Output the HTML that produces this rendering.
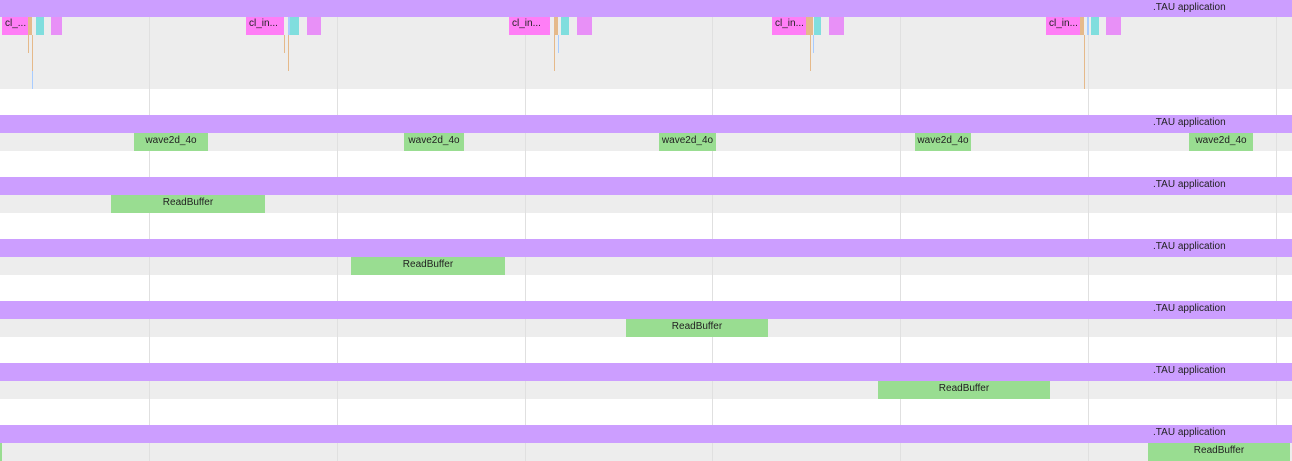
<!DOCTYPE html>
<html><head><meta charset="utf-8"><style>
body{margin:0;width:1292px;height:461px;overflow:hidden;background:#fff;font-family:"Liberation Sans",sans-serif;font-size:10px;color:#222}
#c{position:relative;width:1292px;height:461px}
.a{position:absolute;box-sizing:border-box;overflow:hidden;white-space:nowrap}
.t{line-height:17px}
</style></head><body><div id="c"></div>
<script>
const gridX=[149,337,525,712,900,1088,1276];
const trackTops=[0,115,177,239,301,363,425];
const trackBarH=[17,18,18,18,18,18,18];
const trackGrayH=[72,18,18,18,18,18,18];
// [track, start, end, label]
const greenEvents=[[1,134,208,"wave2d_4o"],[1,404,464,"wave2d_4o"],[1,659,716,"wave2d_4o"],[1,915,971,"wave2d_4o"],[1,1189,1253,"wave2d_4o"],
[2,111,265,"ReadBuffer"],[3,351,505,"ReadBuffer"],[4,626,768,"ReadBuffer"],[5,878,1050,"ReadBuffer"],[6,1148,1290,"ReadBuffer"],[6,0,2,""]];
// top track: [start,end,row,color,label]
const topEvents=[
[2,28,0,"#ff7ef6","cl_..."],[28,32,0,"#e5b98a",""],[36,44,0,"#80dede",""],[51,62,0,"#e890f7",""],
[246,284,0,"#ff7ef6","cl_in..."],[288,290,0,"#a8ccff",""],[290,299,0,"#80dede",""],[307,321,0,"#e890f7",""],
[509,550,0,"#ff7ef6","cl_in..."],[554,558,0,"#e5b98a",""],[561,569,0,"#80dede",""],[577,592,0,"#e890f7",""],
[772,806,0,"#ff7ef6","cl_in..."],[806,813,0,"#e5b98a",""],[814,821,0,"#80dede",""],[829,844,0,"#e890f7",""],
[1046,1080,0,"#ff7ef6","cl_in..."],[1080,1084,0,"#e5b98a",""],[1087,1089,0,"#a8ccff",""],[1091,1099,0,"#80dede",""],[1106,1121,0,"#e890f7",""],
[28,29,1,"#e5b98a",""],[32,33,1,"#e5b98a",""],[32,33,2,"#e5b98a",""],[32,33,3,"#a8ccff",""],
[284,285,1,"#e5b98a",""],[288,289,1,"#e5b98a",""],[288,289,2,"#e5b98a",""],
[554,555,1,"#e5b98a",""],[554,555,2,"#e5b98a",""],[558,559,1,"#a8ccff",""],
[810,811,1,"#e5b98a",""],[810,811,2,"#e5b98a",""],[813,814,1,"#a8ccff",""],
[1084,1085,1,"#e5b98a",""],[1084,1085,2,"#e5b98a",""],[1084,1085,3,"#e5b98a",""]];
const c=document.getElementById('c');
function box(x,y,w,h,bg,txt,mode){const d=document.createElement('div');d.className='a t';d.style.cssText=`left:${x}px;top:${y}px;width:${w}px;height:${h}px;background:${bg};`+(mode==='c'?'text-align:center;':(mode==='l'&&w>4?'padding-left:3px;':''));if(txt)d.textContent=txt;c.appendChild(d);return d;}
trackTops.forEach((y,i)=>{
 const g=box(0,y+trackBarH[i],1292,trackGrayH[i],'#ededed','');
 
 
});
gridX.forEach(x=>{const d=box(x,0,1,461,'#e0e0e0','');
 
 });
trackTops.forEach((y,i)=>{
 const p=box(0,y,1292,trackBarH[i],'#cc9eff','');
 
 
 const s=document.createElement('span');s.textContent='.TAU application';s.style.cssText='position:absolute;left:1153px;top:-1px;';p.appendChild(s);
});
greenEvents.forEach(e=>{const d=box(e[1],trackTops[e[0]]+18,e[2]-e[1],18,'#99dd91',e[3],'c');d.style.lineHeight='15px';
 
 });
topEvents.forEach(e=>{const d=box(e[0],17+e[2]*18,e[1]-e[0],18,e[3],e[4],'l');d.style.lineHeight='14px';
 
 });
</script></body></html>
